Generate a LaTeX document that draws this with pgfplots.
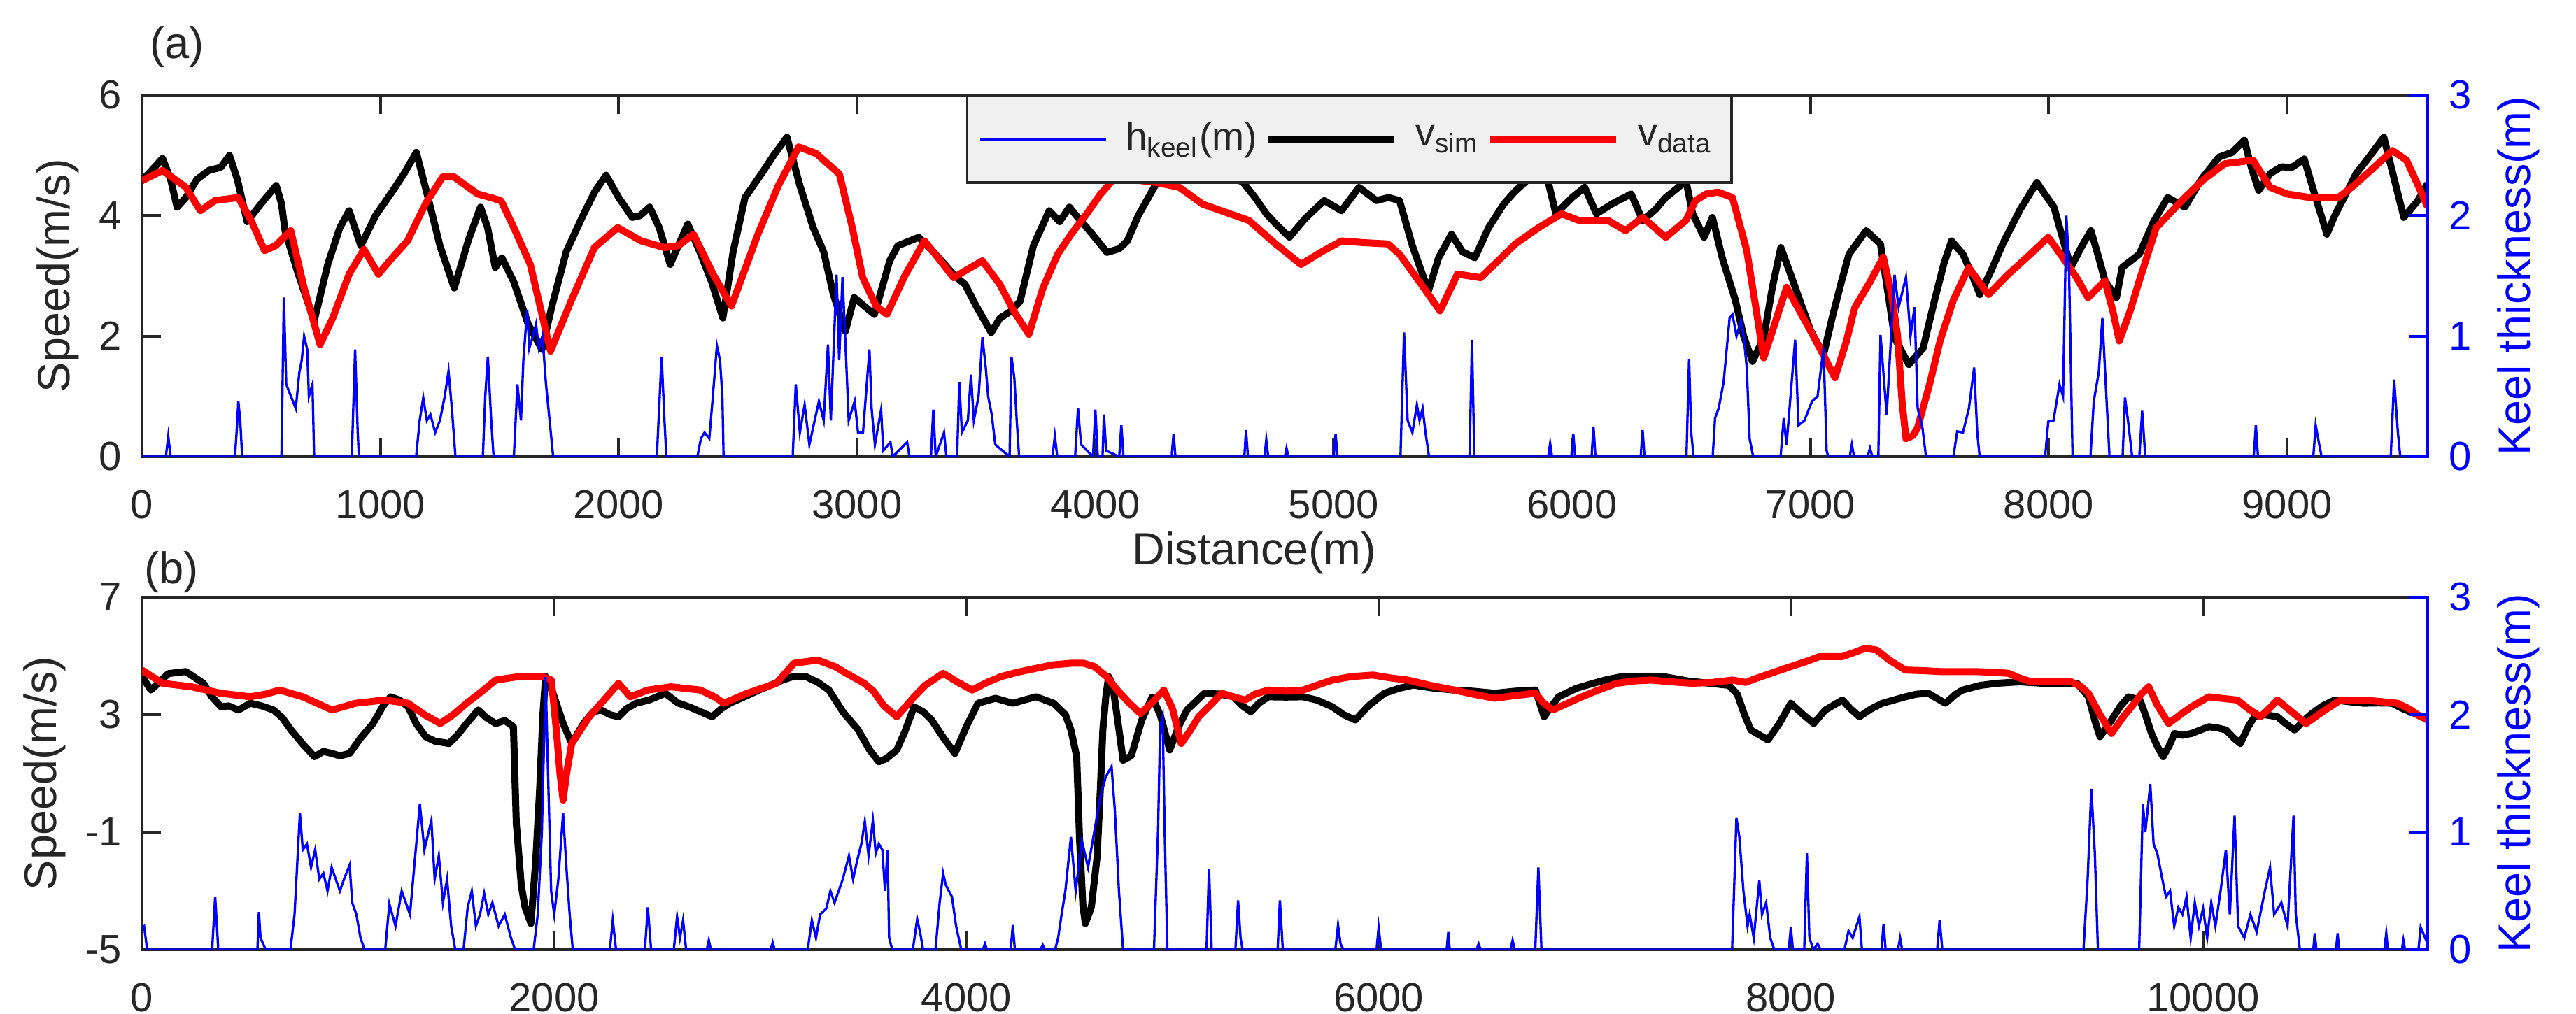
\documentclass[border=0pt]{standalone}
\usepackage{fontspec}
\setmainfont{Liberation Sans}
\usepackage{pgfplots}
\pgfplotsset{compat=1.18}
\definecolor{axgray}{RGB}{38,38,38}
\begin{document}
\begin{tikzpicture}
\useasboundingbox (0,0) rectangle (552.3pt,217.35pt);
\pgfplotsset{
  common/.style={
    scale only axis, width=490.05pt,
    tick align=inside, major tick length=4pt,
    every tick/.style={line width=0.6pt},
    tick label style={font=\fontsize{8.7}{10}\selectfont},
    label style={font=\fontsize{9.7}{11}\selectfont},
    scaled ticks=false,
  },
  leftax/.style={
    common,
    axis line style={axgray, line width=0.6pt},
    xtick pos=both, ytick pos=left,
    tick style={axgray},
    xticklabel style={axgray, inner ysep=0pt, yshift=-7pt},
    yticklabel style={axgray, xshift=-0.85pt},
    ylabel style={axgray, at={(axis description cs:-0.0367,0.5)}, anchor=center},
  },
  rightax/.style={
    common,
    axis x line=none, axis y line*=right,
    y axis line style={blue, line width=0.6pt},
    ytick={0,1,2,3}, yticklabels={0,1,2,3},
    ytick style={blue},
    yticklabel style={blue, xshift=1.1pt},
    ylabel style={blue, at={(axis description cs:1.0398,0.5)}, anchor=center},
    ymin=0, ymax=3,
  },
  simline/.style={black, line width=1.5pt, line join=round},
  datline/.style={red, line width=1.5pt, line join=round},
  keelline/.style={blue, line width=0.5pt},
}
% ================= Panel (a) =================
\begin{axis}[leftax, at={(30.45pt,119.4pt)}, anchor=south west, height=77.55pt,
  xmin=0, xmax=9590, ymin=0, ymax=6,
  xtick={0,1000,2000,3000,4000,5000,6000,7000,8000,9000},
  xticklabels={0,1000,2000,3000,4000,5000,6000,7000,8000,9000},
  ytick={0,2,4,6}, yticklabels={0,2,4,6},
  ylabel={Speed(m/s)},
  xlabel={Distance(m)},
  xlabel style={axgray, at={(axis description cs:0.4867,-0.298)}, anchor=base},
]
\addplot[simline] coordinates {(0,4.58)(40,4.75)(86,4.95)(120,4.6)(147,4.14)(184,4.3)(230,4.6)(280,4.75)(330,4.8)(367,5.0)(400,4.6)(441,3.9)(500,4.2)(563,4.5)(585,4.2)(600,3.75)(650,3.1)(722,2.25)(780,3.2)(830,3.8)(869,4.08)(918,3.5)(980,4.0)(1050,4.4)(1100,4.7)(1151,5.05)(1200,4.3)(1250,3.5)(1310,2.8)(1370,3.6)(1420,4.14)(1450,3.8)(1482,3.14)(1510,3.3)(1560,2.9)(1620,2.2)(1678,1.78)(1720,2.5)(1780,3.4)(1850,4.0)(1900,4.4)(1947,4.67)(2000,4.3)(2057,3.97)(2090,4.0)(2130,4.14)(2170,3.8)(2216,3.19)(2250,3.5)(2290,3.86)(2340,3.4)(2390,2.9)(2437,2.3)(2480,3.4)(2530,4.3)(2600,4.7)(2650,5.0)(2706,5.3)(2760,4.5)(2816,3.8)(2860,3.4)(2900,2.7)(2951,2.08)(2988,2.64)(3030,2.5)(3073,2.36)(3137,3.25)(3171,3.5)(3259,3.64)(3320,3.4)(3368,3.19)(3410,3.0)(3453,2.86)(3500,2.5)(3563,2.06)(3600,2.3)(3648,2.42)(3684,2.58)(3740,3.5)(3806,4.08)(3850,3.9)(3891,4.14)(3930,3.95)(3964,3.8)(4049,3.39)(4100,3.45)(4134,3.58)(4180,4.0)(4231,4.36)(4280,4.7)(4350,4.8)(4450,4.75)(4550,4.7)(4620,4.55)(4670,4.3)(4717,4.03)(4760,3.85)(4814,3.64)(4880,3.95)(4960,4.25)(5033,4.08)(5106,4.47)(5179,4.25)(5230,4.3)(5276,4.25)(5330,3.5)(5397,2.75)(5440,3.3)(5494,3.69)(5540,3.4)(5592,3.3)(5650,3.8)(5713,4.19)(5760,4.4)(5810,4.58)(5895,4.64)(5932,4.03)(6000,4.3)(6053,4.47)(6102,4.03)(6170,4.2)(6248,4.36)(6296,3.92)(6350,4.1)(6393,4.3)(6440,4.45)(6478,4.58)(6506,4.03)(6554,3.64)(6589,3.97)(6630,3.3)(6685,2.6)(6720,2.0)(6757,1.58)(6804,1.97)(6840,2.8)(6876,3.47)(6910,3.1)(6947,2.69)(7000,2.1)(7055,1.69)(7091,2.3)(7130,2.9)(7162,3.36)(7234,3.75)(7294,3.53)(7330,2.6)(7353,1.97)(7413,1.53)(7473,1.8)(7520,2.58)(7560,3.2)(7592,3.58)(7640,3.36)(7680,3.0)(7711,2.69)(7760,3.1)(7807,3.53)(7880,4.1)(7950,4.55)(8022,4.14)(8060,3.6)(8093,3.14)(8140,3.5)(8177,3.75)(8210,3.3)(8236,2.92)(8284,2.64)(8308,3.14)(8380,3.36)(8440,3.9)(8499,4.3)(8571,4.14)(8640,4.6)(8714,4.97)(8770,5.05)(8821,5.25)(8850,4.8)(8881,4.42)(8930,4.7)(8976,4.81)(9020,4.8)(9072,4.94)(9120,4.3)(9167,3.69)(9200,4.0)(9239,4.3)(9290,4.7)(9334,4.92)(9406,5.3)(9450,4.6)(9490,3.97)(9549,4.25)(9590,4.53)};
\addplot[datline] coordinates {(0,4.58)(86,4.75)(184,4.47)(245,4.08)(306,4.25)(404,4.3)(460,3.9)(514,3.42)(560,3.5)(624,3.75)(680,2.8)(747,1.86)(800,2.3)(869,3.03)(931,3.44)(992,3.03)(1050,3.3)(1114,3.58)(1190,4.2)(1261,4.64)(1310,4.64)(1408,4.36)(1506,4.25)(1560,3.8)(1629,3.19)(1714,1.75)(1800,2.58)(1898,3.47)(1996,3.8)(2094,3.58)(2192,3.47)(2250,3.5)(2314,3.69)(2400,3.0)(2473,2.5)(2584,3.69)(2670,4.5)(2755,5.14)(2829,5.03)(2926,4.69)(2980,3.8)(3024,2.97)(3080,2.5)(3125,2.36)(3200,3.0)(3283,3.58)(3340,3.3)(3405,2.97)(3460,3.1)(3526,3.25)(3599,2.86)(3660,2.4)(3721,2.03)(3780,2.8)(3842,3.36)(3900,3.7)(3964,4.03)(4020,4.35)(4085,4.64)(4150,4.6)(4255,4.55)(4352,4.47)(4450,4.19)(4550,4.05)(4644,3.92)(4750,3.55)(4863,3.19)(4950,3.4)(5033,3.58)(5130,3.55)(5227,3.53)(5276,3.36)(5360,2.9)(5446,2.42)(5519,3.03)(5616,2.97)(5690,3.25)(5762,3.53)(5860,3.8)(5956,4.03)(6029,3.92)(6151,3.92)(6224,3.75)(6296,3.97)(6393,3.64)(6478,3.92)(6518,4.25)(6563,4.36)(6613,4.39)(6673,4.3)(6733,3.42)(6770,2.5)(6804,1.64)(6850,2.2)(6900,2.81)(6971,2.3)(7040,1.8)(7103,1.31)(7150,1.9)(7186,2.47)(7250,2.9)(7306,3.31)(7340,2.7)(7365,2.03)(7385,0.9)(7401,0.3)(7430,0.35)(7449,0.47)(7500,1.2)(7544,1.92)(7600,2.6)(7664,3.14)(7747,2.69)(7831,3.03)(7920,3.35)(7998,3.64)(8060,3.3)(8117,2.97)(8165,2.64)(8236,2.92)(8270,2.4)(8296,1.92)(8340,2.4)(8380,2.92)(8451,3.8)(8571,4.3)(8650,4.6)(8738,4.86)(8857,4.92)(8929,4.47)(9000,4.36)(9095,4.3)(9215,4.3)(9280,4.5)(9334,4.69)(9442,5.08)(9501,4.92)(9550,4.5)(9590,4.14)};
\end{axis}
\begin{axis}[rightax, at={(30.45pt,119.4pt)}, anchor=south west, height=77.55pt,
  xmin=0, xmax=9590,
  ylabel={Keel thickness(m)},
  legend columns=3,
  legend image code/.code={\draw[#1] (0pt,0pt) -- (27pt,0pt);},
  legend style={at={(axis description cs:0.3605,1)}, anchor=north west,
    draw=axgray, line width=0.5pt, fill=black!6,
    font=\fontsize{8.3}{9.5}\selectfont, text=axgray,
    inner xsep=2.5pt, inner ysep=3.5pt,
    nodes={inner xsep=1.5pt, inner ysep=2pt},
    /tikz/every odd column/.append style={column sep=2.5pt}},
]
\addlegendimage{keelline}
\addlegendentry{h\textsubscript{keel}(m)}
\addlegendimage{simline}
\addlegendentry{v\textsubscript{sim}}
\addlegendimage{datline}
\addlegendentry{v\textsubscript{data}}
\addplot[keelline, forget plot] coordinates {(0,0)(100,0)(110,0.17)(120,0)(390,0)(400,0.3)(404,0.46)(412,0.3)(420,0)(585,0)(595,1.32)(605,0.6)(625,0.5)(645,0.4)(660,0.7)(670,0.8)(680,1.0)(693,0.89)(700,0.5)(715,0.6)(722,0)(880,0)(894,0.89)(905,0.2)(910,0)(1150,0)(1165,0.3)(1180,0.49)(1195,0.3)(1210,0.35)(1230,0.2)(1250,0.3)(1270,0.5)(1286,0.71)(1300,0.4)(1315,0)(1430,0)(1440,0.5)(1451,0.83)(1465,0.3)(1475,0)(1560,0)(1575,0.6)(1590,0.3)(1600,0.8)(1616,1.22)(1625,0.9)(1640,1.0)(1653,1.1)(1665,0.9)(1680,1.0)(1695,0.6)(1710,0.3)(1725,0)(2160,0)(2172,0.5)(2180,0.83)(2192,0.3)(2200,0)(2330,0)(2345,0.15)(2360,0.2)(2380,0.15)(2395,0.5)(2412,0.92)(2425,0.8)(2435,0.5)(2440,0)(2730,0)(2743,0.6)(2760,0.2)(2780,0.43)(2800,0.1)(2840,0.46)(2860,0.3)(2878,0.93)(2890,0.3)(2914,1.51)(2925,0.8)(2939,1.49)(2950,1.0)(2965,0.3)(2990,0.46)(3004,0.2)(3025,0.2)(3052,0.89)(3061,0.4)(3075,0.1)(3101,0.39)(3110,0.05)(3140,0.12)(3150,0)(3210,0.12)(3220,0)(3310,0)(3320,0.39)(3330,0)(3365,0.2)(3375,0)(3420,0)(3429,0.62)(3440,0.2)(3465,0.3)(3478,0.68)(3490,0.3)(3510,0.5)(3526,0.99)(3540,0.74)(3550,0.5)(3565,0.35)(3580,0.1)(3640,0)(3648,0.83)(3660,0.65)(3670,0.3)(3680,0)(3820,0)(3830,0.17)(3840,0)(3915,0)(3927,0.4)(3940,0.1)(3990,0)(4000,0.39)(4010,0)(4030,0)(4036,0.35)(4045,0.05)(4100,0)(4109,0.26)(4118,0)(4320,0)(4328,0.19)(4336,0)(4625,0)(4632,0.22)(4640,0)(4710,0)(4717,0.14)(4725,0)(4795,0)(4802,0.07)(4810,0)(5000,0)(5008,0.19)(5016,0)(5280,0)(5295,1.03)(5310,0.3)(5330,0.2)(5349,0.43)(5360,0.3)(5373,0.4)(5385,0.2)(5400,0)(5570,0)(5580,0.97)(5590,0)(5900,0)(5908,0.11)(5916,0)(5997,0)(6005,0.19)(6013,0)(6082,0)(6090,0.25)(6098,0)(6288,0)(6296,0.22)(6304,0)(6480,0)(6491,0.81)(6500,0.2)(6510,0)(6590,0)(6600,0.32)(6615,0.4)(6636,0.62)(6661,1.15)(6673,1.18)(6690,1.0)(6709,1.13)(6720,1.0)(6733,0.74)(6745,0.15)(6760,0)(6875,0)(6888,0.32)(6900,0.1)(6936,0.97)(6950,0.26)(6975,0.3)(7007,0.46)(7030,0.5)(7055,0.9)(7068,0.05)(7075,0)(7165,0)(7174,0.1)(7183,0)(7240,0)(7250,0.07)(7260,0)(7285,0)(7294,1.01)(7320,0.35)(7353,1.51)(7370,1.24)(7401,1.49)(7420,1.0)(7437,1.24)(7450,0.4)(7470,0.24)(7485,0)(7600,0)(7616,0.21)(7640,0.2)(7665,0.4)(7687,0.74)(7700,0.2)(7710,0)(7985,0)(7998,0.29)(8020,0.3)(8045,0.6)(8060,0.5)(8074,2.0)(8085,1.57)(8100,0)(8175,0)(8189,0.46)(8210,0.7)(8225,1.15)(8240,0.57)(8255,0)(8310,0)(8320,0.49)(8335,0.26)(8350,0)(8380,0)(8392,0.38)(8405,0)(8860,0)(8869,0.26)(8878,0)(9110,0)(9120,0.26)(9135,0.1)(9145,0)(9435,0)(9449,0.64)(9465,0.2)(9475,0)(9590,0)};
\end{axis}
\node[font=\fontsize{9.5}{11}\selectfont, text=axgray] at (37.95pt,207.3pt) {(a)};
% ================= Panel (b) =================
\begin{axis}[leftax, at={(30.45pt,13.65pt)}, anchor=south west, height=75.6pt,
  xmin=0, xmax=11090, ymin=-5, ymax=7,
  xtick={0,2000,4000,6000,8000,10000},
  xticklabels={0,2000,4000,6000,8000,10000},
  ytick={-5,-1,3,7}, yticklabels={-5,-1,3,7},
  ylabel={Speed(m/s)},
  ylabel style={at={(axis description cs:-0.0425,0.5)}},
]
\addplot[simline] coordinates {(0,4.3)(43,3.84)(128,4.4)(213,4.47)(298,4.07)(340,3.6)(383,3.27)(420,3.3)(468,3.16)(525,3.39)(580,3.3)(638,3.16)(680,2.9)(723,2.48)(780,2.0)(837,1.57)(880,1.75)(922,1.68)(960,1.6)(1007,1.68)(1060,2.2)(1121,2.7)(1170,3.3)(1206,3.61)(1250,3.5)(1291,3.27)(1330,2.7)(1376,2.25)(1420,2.1)(1489,2.02)(1530,2.3)(1575,2.7)(1631,3.16)(1670,2.9)(1716,2.7)(1760,2.8)(1802,2.59)(1816,-0.7)(1840,-2.8)(1858,-3.55)(1887,-4.11)(1910,-2.0)(1929,0.43)(1945,3.0)(1958,4.3)(1980,4.0)(2000,3.61)(2043,2.7)(2085,2.02)(2142,2.7)(2190,3.1)(2227,3.16)(2270,3.0)(2312,2.93)(2350,3.2)(2397,3.39)(2460,3.5)(2539,3.73)(2600,3.4)(2653,3.27)(2710,3.1)(2766,2.93)(2810,3.2)(2851,3.39)(2920,3.6)(2993,3.84)(3050,4.0)(3107,4.18)(3160,4.3)(3220,4.3)(3280,4.1)(3333,3.84)(3400,3.1)(3475,2.48)(3530,1.8)(3575,1.4)(3610,1.5)(3662,1.8)(3700,2.4)(3746,3.27)(3790,3.1)(3831,2.82)(3890,2.2)(3944,1.68)(4000,2.6)(4056,3.39)(4141,3.56)(4225,3.39)(4280,3.5)(4338,3.61)(4423,3.39)(4480,3.0)(4507,2.48)(4535,1.57)(4549,-1.27)(4565,-3.5)(4577,-4.11)(4606,-3.55)(4634,-1.84)(4650,0.5)(4662,2.5)(4676,3.6)(4690,4.3)(4710,4.0)(4740,2.5)(4760,1.45)(4800,1.6)(4850,2.8)(4901,3.6)(4940,3.0)(4986,1.8)(5030,2.6)(5070,3.16)(5155,3.73)(5230,3.7)(5296,3.61)(5340,3.3)(5380,3.1)(5420,3.4)(5465,3.61)(5550,3.6)(5634,3.61)(5700,3.5)(5775,3.27)(5830,3.0)(5887,2.82)(5950,3.3)(6028,3.73)(6100,3.9)(6169,4.01)(6270,3.9)(6366,3.84)(6460,3.8)(6563,3.73)(6660,3.8)(6761,3.84)(6803,2.93)(6840,3.3)(6873,3.61)(6960,3.9)(7042,4.07)(7110,4.2)(7183,4.3)(7280,4.3)(7380,4.3)(7500,4.15)(7606,4.07)(7700,4.0)(7740,3.7)(7775,3.0)(7806,2.48)(7850,2.3)(7889,2.14)(7944,2.7)(8000,3.39)(8060,3.0)(8111,2.7)(8167,3.16)(8250,3.5)(8290,3.2)(8333,2.93)(8390,3.2)(8444,3.39)(8500,3.5)(8556,3.61)(8610,3.7)(8667,3.73)(8710,3.55)(8750,3.39)(8800,3.7)(8833,3.84)(8920,4.0)(9000,4.07)(9111,4.12)(9222,4.07)(9300,4.07)(9389,4.07)(9444,3.61)(9475,2.8)(9500,2.25)(9556,2.82)(9600,3.3)(9639,3.61)(9694,3.5)(9720,3.0)(9750,2.36)(9780,1.9)(9806,1.57)(9840,2.0)(9861,2.36)(9900,2.3)(9944,2.36)(10028,2.59)(10070,2.55)(10111,2.48)(10150,2.2)(10181,2.02)(10220,2.6)(10250,2.93)(10300,3.0)(10361,2.93)(10400,2.7)(10444,2.48)(10490,2.8)(10528,3.04)(10580,3.3)(10639,3.5)(10700,3.45)(10778,3.39)(10850,3.4)(10917,3.39)(10970,3.2)(11028,3.04)(11090,2.82)};
\addplot[datline] coordinates {(0,4.52)(99,4.07)(241,3.95)(383,3.73)(525,3.61)(600,3.7)(667,3.84)(780,3.61)(922,3.16)(1036,3.39)(1177,3.5)(1291,3.39)(1370,3.0)(1447,2.7)(1510,3.0)(1575,3.39)(1650,3.8)(1716,4.18)(1830,4.3)(1943,4.3)(1986,4.18)(2010,2.5)(2028,1.0)(2043,0.09)(2060,1.0)(2085,2.02)(2130,2.5)(2170,2.93)(2255,3.61)(2312,4.07)(2369,3.61)(2454,3.84)(2567,3.95)(2709,3.84)(2780,3.6)(2823,3.39)(2936,3.73)(3078,4.07)(3163,4.75)(3277,4.86)(3362,4.64)(3420,4.4)(3504,4.07)(3549,3.8)(3600,3.3)(3662,2.93)(3746,3.61)(3800,4.0)(3887,4.41)(3960,4.1)(4028,3.84)(4100,4.1)(4169,4.3)(4250,4.45)(4338,4.58)(4420,4.7)(4507,4.75)(4570,4.75)(4620,4.64)(4680,4.3)(4732,3.84)(4790,3.4)(4845,3.04)(4900,3.4)(4958,3.84)(5000,3.2)(5042,2.02)(5080,2.4)(5127,2.93)(5180,3.3)(5239,3.73)(5300,3.6)(5352,3.5)(5400,3.7)(5465,3.84)(5550,3.8)(5634,3.84)(5700,4.0)(5775,4.18)(5870,4.3)(5972,4.35)(6060,4.25)(6141,4.18)(6250,4.0)(6366,3.84)(6460,3.7)(6563,3.56)(6660,3.65)(6761,3.73)(6800,3.4)(6845,3.16)(6920,3.4)(6986,3.61)(7070,3.85)(7155,4.07)(7240,4.15)(7324,4.18)(7420,4.12)(7521,4.07)(7620,4.1)(7718,4.18)(7780,4.1)(7833,4.24)(7920,4.45)(8000,4.64)(8070,4.8)(8139,4.98)(8250,4.98)(8300,5.1)(8361,5.26)(8417,5.2)(8480,4.85)(8556,4.52)(8640,4.5)(8722,4.47)(8800,4.47)(8889,4.47)(8970,4.45)(9056,4.41)(9110,4.25)(9167,4.12)(9260,4.12)(9361,4.12)(9410,3.95)(9444,3.73)(9500,3.0)(9556,2.36)(9610,2.9)(9667,3.39)(9700,3.7)(9736,3.95)(9780,3.3)(9833,2.7)(9890,3.0)(9944,3.27)(10028,3.61)(10100,3.55)(10167,3.5)(10220,3.2)(10278,2.93)(10320,3.2)(10361,3.5)(10430,3.1)(10500,2.7)(10580,3.1)(10667,3.5)(10778,3.5)(10860,3.45)(10944,3.39)(11000,3.2)(11056,2.93)(11090,2.85)};
\end{axis}
\begin{axis}[rightax, at={(30.45pt,13.65pt)}, anchor=south west, height=75.6pt,
  xmin=0, xmax=11090,
  ylabel={Keel thickness(m)},
]
\addplot[keelline] coordinates {(0,0.19)(10,0.2)(25,0)(340,0)(355,0.45)(370,0)(560,0)(567,0.32)(575,0.1)(600,0)(720,0)(740,0.3)(766,1.16)(780,0.85)(800,0.9)(820,0.7)(840,0.85)(860,0.6)(880,0.65)(900,0.5)(920,0.7)(940,0.6)(960,0.5)(980,0.6)(1007,0.72)(1020,0.4)(1040,0.3)(1060,0.1)(1080,0)(1180,0)(1200,0.39)(1230,0.2)(1260,0.5)(1300,0.3)(1348,1.24)(1370,0.85)(1404,1.1)(1420,0.6)(1440,0.8)(1460,0.4)(1480,0.6)(1500,0.2)(1520,0)(1560,0)(1580,0.36)(1600,0.5)(1620,0.2)(1640,0.3)(1660,0.48)(1680,0.3)(1700,0.4)(1730,0.2)(1760,0.3)(1790,0.1)(1810,0)(1900,0)(1920,0.3)(1940,1.0)(1958,2.32)(1970,1.5)(1985,0.5)(2000,0.3)(2020,0.6)(2043,1.16)(2060,0.68)(2075,0.3)(2090,0)(2270,0)(2284,0.25)(2300,0)(2440,0)(2454,0.36)(2470,0)(2580,0)(2596,0.28)(2610,0.1)(2625,0.25)(2640,0)(2740,0)(2750,0.08)(2760,0)(3050,0)(3060,0.06)(3070,0)(3230,0)(3250,0.25)(3270,0.1)(3290,0.3)(3320,0.35)(3340,0.5)(3360,0.4)(3400,0.6)(3430,0.8)(3450,0.6)(3470,0.76)(3490,0.9)(3507,1.09)(3525,0.8)(3546,1.1)(3560,0.82)(3575,0.9)(3592,0.85)(3605,0.5)(3617,0.85)(3625,0.1)(3640,0)(3740,0)(3761,0.26)(3775,0.15)(3790,0)(3850,0)(3870,0.4)(3887,0.65)(3900,0.55)(3930,0.45)(3950,0.2)(3975,0)(4080,0)(4090,0.05)(4100,0)(4215,0)(4225,0.21)(4235,0)(4360,0)(4370,0.04)(4380,0)(4430,0)(4445,0.1)(4460,0.28)(4480,0.5)(4507,0.96)(4530,0.5)(4560,0.93)(4590,0.7)(4620,1.0)(4650,1.3)(4676,1.47)(4704,1.56)(4720,1.19)(4740,0.5)(4760,0)(4910,0)(4930,1.03)(4940,1.9)(4952,1.98)(4962,1.0)(4975,0)(5165,0)(5177,0.69)(5190,0)(5305,0)(5318,0.42)(5330,0.1)(5340,0)(5510,0)(5521,0.42)(5535,0)(5790,0)(5803,0.21)(5815,0.05)(5830,0)(5990,0)(6000,0.19)(6012,0)(6330,0)(6338,0.15)(6345,0)(6475,0)(6485,0.05)(6495,0)(6640,0)(6650,0.08)(6660,0)(6760,0)(6775,0.7)(6790,0)(7715,0)(7736,1.12)(7750,0.96)(7770,0.5)(7790,0.2)(7800,0.3)(7820,0.1)(7847,0.59)(7860,0.3)(7880,0.4)(7900,0.1)(7920,0)(7990,0)(8000,0.19)(8010,0)(8065,0)(8078,0.82)(8090,0.1)(8110,0)(8130,0.05)(8145,0)(8260,0)(8280,0.16)(8300,0.1)(8333,0.28)(8345,0)(8440,0)(8450,0.22)(8460,0)(8520,0)(8530,0.1)(8540,0)(8710,0)(8722,0.25)(8735,0)(9420,0)(9440,0.6)(9458,1.37)(9475,0.82)(9490,0)(9690,0)(9708,1.24)(9720,1.0)(9744,1.41)(9760,0.9)(9778,0.82)(9800,0.62)(9820,0.45)(9840,0.5)(9860,0.2)(9880,0.36)(9900,0.3)(9920,0.45)(9940,0.1)(9960,0.4)(9980,0.2)(10000,0.35)(10020,0.1)(10040,0.4)(10060,0.2)(10085,0.5)(10111,0.85)(10130,0.3)(10153,1.14)(10170,0.2)(10200,0.1)(10230,0.3)(10260,0.15)(10300,0.5)(10325,0.7)(10345,0.3)(10380,0.4)(10410,0.2)(10439,1.14)(10450,0.3)(10470,0)(10535,0)(10542,0.14)(10550,0)(10645,0)(10653,0.14)(10660,0)(10880,0)(10889,0.14)(10897,0)(10965,0)(10972,0.08)(10980,0)(11045,0)(11056,0.19)(11090,0.05)};
\end{axis}
\node[font=\fontsize{9.5}{11}\selectfont, text=axgray] at (36.75pt,94.65pt) {(b)};
\end{tikzpicture}
\end{document}
